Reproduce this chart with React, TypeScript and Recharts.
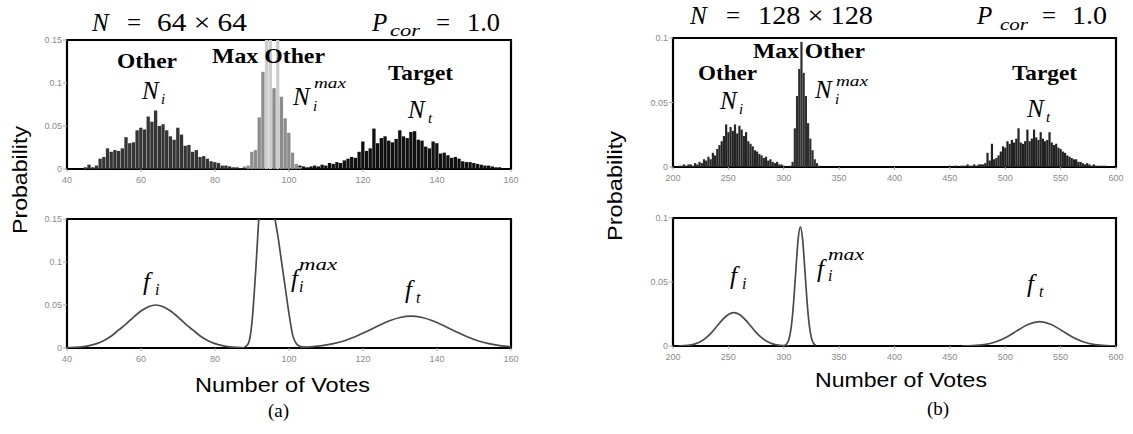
import React from "react";
import {
  ComposedChart,
  Bar,
  Line,
  Cell,
  XAxis,
  YAxis,
  ReferenceArea
} from "recharts";

// tick labels
const votesTicksA = [40, 60, 80, 100, 120, 140, 160];
const votesTicksB = [200, 250, 300, 350, 400, 450, 500, 550, 600];
const probTicksA = [0, 0.05, 0.1, 0.15];
const probTicksB = [0, 0.05, 0.1];

// (a) N = 64x64 histograms, one bin per vote
const otherAStart = 44;
const otherA = [
  0, 0.002, 0.005, 0.002, 0.004, 0.012, 0.014, 0.024, 0.02, 0.022, 0.021, 0.024,
  0.037, 0.03, 0.031, 0.045, 0.048, 0.046, 0.061, 0.055, 0.068, 0.05, 0.052, 0.045,
  0.038, 0.034, 0.048, 0.04, 0.027, 0.028, 0.02, 0.022, 0.014, 0.015, 0.012, 0.009,
  0.008, 0.007, 0.004, 0.004, 0.003, 0.002, 0.002, 0.001, 0.001
];
const maxOtherAStart = 88;
const maxOtherA = [
  0.002, 0.004, 0.02, 0.022, 0.06, 0.113, 0.17, 0.17, 0.094, 0.17, 0.084, 0.059,
  0.042, 0.019, 0.006, 0.002
];
const targetAStart = 103;
const targetA = [
  0.002, 0.003, 0.002, 0.003, 0.004, 0.003, 0.005, 0.004, 0.007, 0.006, 0.008, 0.007,
  0.01, 0.012, 0.014, 0.013, 0.02, 0.032, 0.021, 0.024, 0.047, 0.03, 0.036, 0.038,
  0.033, 0.031, 0.035, 0.045, 0.038, 0.036, 0.043, 0.044, 0.034, 0.033, 0.026, 0.024,
  0.032, 0.03, 0.018, 0.019, 0.016, 0.013, 0.014, 0.012, 0.009, 0.008, 0.008, 0.007,
  0.006, 0.005, 0.004, 0.004, 0.003, 0.002, 0.002
];

// (a) fitted densities
const fiAVotes = [40, 42, 44, 46, 48, 50, 52, 54, 56, 58, 60, 62, 64, 66, 68, 70, 72, 74, 76, 78, 80, 82, 84, 86, 88];
const fiA = [
  0.0003, 0.0007, 0.0014, 0.0028, 0.0051, 0.0088, 0.014, 0.021, 0.028, 0.036, 0.043,
  0.048, 0.05, 0.048, 0.043, 0.036, 0.028, 0.021, 0.014, 0.0088, 0.0051, 0.0028,
  0.0014, 0.0007, 0.0003
];
const fmaxAVotes = [88, 89, 90, 91, 92, 93, 94, 95, 96, 97, 98, 99, 100, 101, 102, 103, 105];
const fmaxA = [
  0.001, 0.005, 0.03, 0.09, 0.16, 0.2, 0.2, 0.18, 0.155, 0.13, 0.1, 0.07, 0.04,
  0.015, 0.005, 0.002, 0.0005
];
const ftAVotes = [103, 106, 109, 112, 115, 118, 121, 124, 127, 130, 133, 136, 139, 142, 145, 148, 151, 154, 157, 160];
const ftA = [
  0.0006, 0.0014, 0.0027, 0.005, 0.0085, 0.0133, 0.0193, 0.0256, 0.0314, 0.0355,
  0.037, 0.0355, 0.0314, 0.0256, 0.0193, 0.0133, 0.0085, 0.005, 0.0027, 0.0014
];

// (b) N = 128x128 histograms, two votes per bin
const otherBStart = 206;
const otherB = [
  0.001, 0.001, 0.002, 0.001, 0.002, 0.002, 0.001, 0.003, 0.002, 0.004, 0.003, 0.006,
  0.005, 0.008, 0.006, 0.011, 0.009, 0.014, 0.017, 0.02, 0.024, 0.033, 0.027, 0.031,
  0.028, 0.033, 0.026, 0.032, 0.029, 0.024, 0.027, 0.02, 0.018, 0.016, 0.013, 0.012,
  0.01, 0.009, 0.007, 0.008, 0.005, 0.006, 0.004, 0.003, 0.004, 0.002, 0.002, 0.001
];
const maxOtherBStart = 306;
const maxOtherB = [
  0.001, 0.004, 0.03, 0.055, 0.076, 0.097, 0.073, 0.055, 0.034, 0.022, 0.013, 0.006,
  0.003, 0.001
];
const targetBStart = 450;
const targetB = [
  0.001, 0, 0.001, 0.001, 0, 0.001, 0.001, 0.001, 0.002, 0.001, 0.001, 0.002, 0.001,
  0.002, 0.002, 0.002, 0.003, 0.011, 0.005, 0.018, 0.006, 0.007, 0.009, 0.012, 0.016,
  0.015, 0.02, 0.018, 0.021, 0.019, 0.022, 0.03, 0.019, 0.018, 0.02, 0.029, 0.02,
  0.022, 0.029, 0.023, 0.021, 0.027, 0.022, 0.02, 0.021, 0.027, 0.019, 0.017, 0.018,
  0.015, 0.014, 0.012, 0.011, 0.009, 0.008, 0.007, 0.006, 0.006, 0.004, 0.004, 0.003,
  0.002, 0.003, 0.002, 0.001, 0.002, 0.001, 0.001, 0.001, 0.001, 0.001
];

// (b) fitted densities
const fiBVotes = [205, 210, 215, 220, 225, 230, 235, 240, 245, 250, 255, 260, 265, 270, 275, 280, 285, 290, 295, 300, 305];
const fiB = [
  0.0001, 0.0003, 0.0007, 0.0017, 0.0035, 0.0065, 0.0107, 0.0158, 0.0208, 0.0246,
  0.026, 0.0246, 0.0208, 0.0158, 0.0107, 0.0065, 0.0035, 0.0017, 0.0007, 0.0003, 0.0001
];
const fmaxBVotes = [301, 303, 305, 307, 309, 311, 313, 315, 317, 319, 321, 323, 325, 327, 329];
const fmaxB = [
  0.0005, 0.0019, 0.0062, 0.0165, 0.0352, 0.0604, 0.0835, 0.093, 0.0835, 0.0604,
  0.0352, 0.0165, 0.0062, 0.0019, 0.0005
];
const ftBVotes = [461, 471, 481, 491, 501, 511, 521, 531, 541, 551, 561, 571, 581, 591, 601];
const ftB = [
  0.0001, 0.0003, 0.0011, 0.0031, 0.0068, 0.0121, 0.017, 0.019, 0.017, 0.0121, 0.0068,
  0.0031, 0.0011, 0.0003, 0.0001
];

const serif = "Liberation Serif, Times New Roman, Times, serif";
const sans = "Liberation Sans, Arial, Helvetica, sans-serif";

const bins = (start: number, step: number, n: number) =>
  Array.from({ length: n }, (_, i) => start + i * step);

function buildRows(series: { key: string; votes: number[]; values: number[] }[]) {
  const map = new Map<number, any>();
  series.forEach((s) =>
    s.votes.forEach((v, i) => {
      const row = map.get(v) ?? { v };
      row[s.key] = s.values[i];
      map.set(v, row);
    })
  );
  return [...map.values()].sort((a, b) => a.v - b.v);
}

const histA = buildRows([
  { key: "other", votes: bins(otherAStart, 1, otherA.length), values: otherA },
  { key: "maxOther", votes: bins(maxOtherAStart, 1, maxOtherA.length), values: maxOtherA },
  { key: "target", votes: bins(targetAStart, 1, targetA.length), values: targetA }
]);
const histB = buildRows([
  { key: "other", votes: bins(otherBStart, 2, otherB.length), values: otherB },
  { key: "maxOther", votes: bins(maxOtherBStart, 2, maxOtherB.length), values: maxOtherB },
  { key: "target", votes: bins(targetBStart, 2, targetB.length), values: targetB }
]);
const densA = buildRows([
  { key: "fi", votes: fiAVotes, values: fiA },
  { key: "fmax", votes: fmaxAVotes, values: fmaxA },
  { key: "ft", votes: ftAVotes, values: ftA }
]);
const densB = buildRows([
  { key: "fi", votes: fiBVotes, values: fiB },
  { key: "fmax", votes: fmaxBVotes, values: fmaxB },
  { key: "ft", votes: ftBVotes, values: ftB }
]);

const Y_W = 47;
const M_TOP = 6;
const M_RIGHT = 14;
const X_H = 24;

interface PanelProps {
  left: number;
  top: number;
  plotW: number;
  plotH: number;
  data: any[];
  xDomain: [number, number];
  xTicks: number[];
  yMax: number;
  yTicks: number[];
  children: React.ReactNode;
}

function Panel({ left, top, plotW, plotH, data, xDomain, xTicks, yMax, yTicks, children }: PanelProps) {
  const tickStyle = { fontSize: 9, fill: "#8a8a8a", fontFamily: sans };
  return (
    <div style={{ position: "absolute", left: left - Y_W, top: top - M_TOP }}>
      <ComposedChart
        width={Y_W + plotW + M_RIGHT}
        height={M_TOP + plotH + X_H}
        data={data}
        margin={{ top: M_TOP, right: M_RIGHT, bottom: 0, left: 0 }}
        barGap={0}
        barCategoryGap={0}
      >
        <XAxis
          dataKey="v"
          type="number"
          domain={xDomain}
          ticks={xTicks}
          allowDataOverflow
          axisLine={false}
          tickLine={{ stroke: "#aaa" }}
          tickSize={3}
          tickMargin={5}
          height={X_H}
          tick={tickStyle}
          interval={0}
        />
        <YAxis
          type="number"
          domain={[0, yMax]}
          ticks={yTicks}
          allowDataOverflow
          axisLine={false}
          tickLine={{ stroke: "#aaa" }}
          tickSize={4}
          tickMargin={1}
          width={Y_W}
          tick={tickStyle}
          interval={0}
        />
        {children}
        <ReferenceArea
          x1={xDomain[0]}
          x2={xDomain[1]}
          y1={0}
          y2={yMax}
          fill="none"
          stroke="#000"
          strokeWidth={2.2}
          ifOverflow="visible"
        />
      </ComposedChart>
    </div>
  );
}

const curve = (key: string) => (
  <Line
    key={key}
    dataKey={key}
    type="monotone"
    stroke="#4a4a4a"
    strokeWidth={1.7}
    dot={false}
    connectNulls
    isAnimationActive={false}
  />
);

function T({ x, y, s, it, b, len, anchor, children }: any) {
  return (
    <text
      x={x}
      y={y}
      textLength={len}
      lengthAdjust={len ? "spacingAndGlyphs" : undefined}
      textAnchor={anchor ?? "start"}
      fill="#000"
      style={{
        fontFamily: serif,
        fontSize: s,
        fontStyle: it ? "italic" : "normal",
        fontWeight: b ? 700 : 400
      }}
    >
      {children}
    </text>
  );
}

export default function App() {
  return (
    <div style={{ position: "fixed", left: 0, top: 0, width: 1133, height: 434, background: "#fff" }}>
      <Panel left={67} top={40} plotW={444} plotH={129} data={histA} xDomain={[40, 160]} xTicks={votesTicksA} yMax={0.15} yTicks={probTicksA}>
        <Bar dataKey="other" stackId="h" fill="#353535" barSize={3.7} isAnimationActive={false} />
        <Bar dataKey="maxOther" stackId="h" fill="#8c8c8c" barSize={3.7} isAnimationActive={false}>
          {histA.map((r, i) => (
            <Cell key={i} fill={(r.maxOther ?? 0) > 0.15 ? "#cdcdcd" : "#8c8c8c"} />
          ))}
        </Bar>
        <Bar dataKey="target" stackId="h" fill="#111" barSize={3.7} isAnimationActive={false} />
      </Panel>
      <Panel left={67} top={219} plotW={444} plotH={129} data={densA} xDomain={[40, 160]} xTicks={votesTicksA} yMax={0.15} yTicks={probTicksA}>
        {curve("fi")}
        {curve("fmax")}
        {curve("ft")}
      </Panel>
      <Panel left={673} top={38} plotW={443} plotH={129} data={histB} xDomain={[200, 600]} xTicks={votesTicksB} yMax={0.1} yTicks={probTicksB}>
        <Bar dataKey="other" stackId="h" fill="#262626" barSize={2.2} isAnimationActive={false} />
        <Bar dataKey="maxOther" stackId="h" fill="#2e2e2e" barSize={2.2} isAnimationActive={false} />
        <Bar dataKey="target" stackId="h" fill="#222" barSize={2.2} isAnimationActive={false} />
      </Panel>
      <Panel left={673} top={218} plotW={443} plotH={128} data={densB} xDomain={[200, 600]} xTicks={votesTicksB} yMax={0.1} yTicks={probTicksB}>
        {curve("fi")}
        {curve("fmax")}
        {curve("ft")}
      </Panel>

      <svg width={1133} height={434} style={{ position: "absolute", left: 0, top: 0, pointerEvents: "none" }}>
        {/* titles (a) */}
        <T x={92} y={31} s={25} it>N</T>
        <T x={127} y={31} s={25}>=</T>
        <T x={157} y={31} s={25} len={90}>64 × 64</T>
        <T x={372} y={31} s={25} it>P</T>
        <T x={390} y={36} s={17} it len={30}>cor</T>
        <T x={436} y={31} s={25}>=</T>
        <T x={467} y={31} s={25} len={33}>1.0</T>
        {/* titles (b) */}
        <T x={690} y={24} s={25} it>N</T>
        <T x={726} y={24} s={25}>=</T>
        <T x={758} y={24} s={25} len={115}>128 × 128</T>
        <T x={977} y={24} s={25} it>P</T>
        <T x={1000} y={30} s={17} it len={28}>cor</T>
        <T x={1042} y={24} s={25}>=</T>
        <T x={1072} y={24} s={25} len={35}>1.0</T>

        {/* top (a) annotations */}
        <T x={117} y={68} s={21} b len={60}>Other</T>
        <T x={142} y={99} s={25} it>N</T>
        <T x={161} y={104} s={15} it>i</T>
        <T x={212} y={63} s={21} b len={113}>Max Other</T>
        <T x={293} y={105} s={25} it>N</T>
        <T x={314} y={88} s={15} it len={32}>max</T>
        <T x={313} y={111} s={15} it>i</T>
        <T x={388} y={80} s={21} b len={65}>Target</T>
        <T x={408} y={118} s={25} it>N</T>
        <T x={428} y={123} s={15} it>t</T>

        {/* bottom (a) annotations */}
        <T x={143} y={290} s={25} it>f</T>
        <T x={155} y={295} s={16} it>i</T>
        <T x={291} y={287} s={25} it>f</T>
        <T x={299} y={270} s={16} it len={38}>max</T>
        <T x={299} y={292} s={16} it>i</T>
        <T x={405} y={298} s={25} it>f</T>
        <T x={416} y={303} s={16} it>t</T>

        {/* top (b) annotations */}
        <T x={753} y={58} s={21} b len={112}>Max Other</T>
        <T x={698} y={80} s={21} b len={59}>Other</T>
        <T x={720} y={109} s={25} it>N</T>
        <T x={739} y={114} s={15} it>i</T>
        <T x={815} y={98} s={25} it>N</T>
        <T x={836} y={86} s={15} it len={32}>max</T>
        <T x={835} y={104} s={15} it>i</T>
        <T x={1012} y={80} s={21} b len={65}>Target</T>
        <T x={1027} y={117} s={25} it>N</T>
        <T x={1046} y={122} s={15} it>t</T>

        {/* bottom (b) annotations */}
        <T x={730} y={284} s={25} it>f</T>
        <T x={742} y={289} s={16} it>i</T>
        <T x={817} y={277} s={25} it>f</T>
        <T x={828} y={260} s={16} it len={36}>max</T>
        <T x={828} y={281} s={16} it>i</T>
        <T x={1027} y={292} s={25} it>f</T>
        <T x={1039} y={297} s={16} it>t</T>

        {/* axis labels */}
        <text x={0} y={0} transform="translate(27,180) rotate(-90)" textAnchor="middle" style={{ fontFamily: sans, fontSize: 21 }} textLength={108} lengthAdjust="spacingAndGlyphs">Probability</text>
        <text x={0} y={0} transform="translate(622,186) rotate(-90)" textAnchor="middle" style={{ fontFamily: sans, fontSize: 21 }} textLength={110} lengthAdjust="spacingAndGlyphs">Probability</text>
        <text x={195} y={392} style={{ fontFamily: sans, fontSize: 21 }} textLength={175} lengthAdjust="spacingAndGlyphs">Number of Votes</text>
        <text x={815} y={387} style={{ fontFamily: sans, fontSize: 21 }} textLength={172} lengthAdjust="spacingAndGlyphs">Number of Votes</text>
        <T x={268} y={417} s={19}>(a)</T>
        <T x={927} y={415} s={19}>(b)</T>
      </svg>
    </div>
  );
}
